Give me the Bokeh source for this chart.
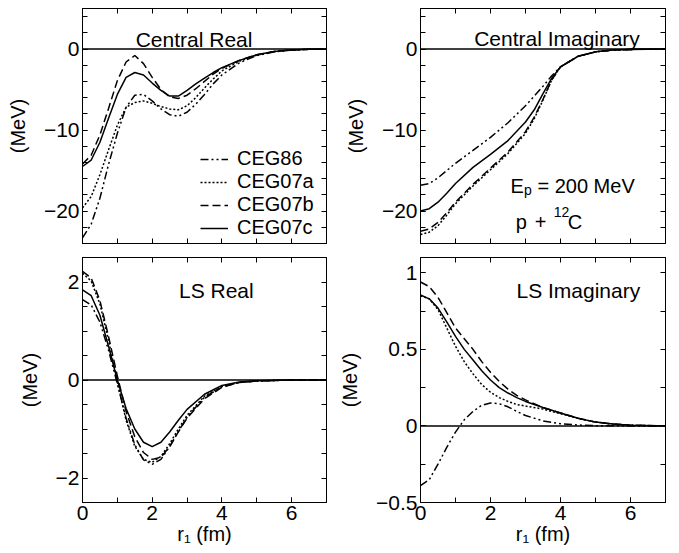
from bokeh.plotting import figure
from bokeh.layouts import gridplot
from bokeh.models import (Range1d, LinearAxis, FixedTicker,
                          CustomJSTickFormatter, Span, Label)
from bokeh.embed import file_html
from bokeh.resources import INLINE

FONT = "Liberation Sans"
FS = "20px"
FT = "21px"
SUB = "14px"

names = ["CEG86", "CEG07a", "CEG07b", "CEG07c"]
dashes = ["8 3 2 3 2 3", "2 2", "8 4", "solid"]

# ticks
x_major = [0, 2, 4, 6]
x_all = [0, 1, 2, 3, 4, 5, 6, 7]
yc_major = [-20, -10, 0]
yc_all = [-24, -22, -20, -18, -16, -14, -12, -10, -8, -6, -4, -2, 0, 2, 4]
ylr_major = [-2, 0, 2]
ylr_all = [-2.5, -2.0, -1.5, -1.0, -0.5, 0.0, 0.5, 1.0, 1.5, 2.0, 2.5]
yli_major = [-0.5, 0, 0.5, 1]
yli_all = [-0.5, -0.25, 0.0, 0.25, 0.5, 0.75, 1.0]

# ---- Central Real ----
r_cr = [0, 0.25, 0.5, 0.75, 1.0, 1.25, 1.5, 1.75, 2.0, 2.25, 2.5, 2.75, 3.0,
        3.25, 3.5, 3.75, 4.0, 4.5, 5.0, 5.5, 6.0, 6.5, 7.0]
cr_ceg86 = [-23.3, -21.6, -18.4, -14.2, -10.4, -7.2, -5.7, -5.6, -6.4, -7.4, -8.1, -8.3, -7.8,
            -6.8, -5.6, -4.3, -3.2, -1.7, -0.8, -0.35, -0.13, -0.04, -0.01]
cr_ceg07a = [-19.6, -18.2, -15.5, -12.4, -9.4, -7.2, -6.6, -6.4, -6.7, -7.1, -7.4, -7.5, -7.0,
             -6.0, -4.8, -3.7, -2.7, -1.5, -0.75, -0.32, -0.12, -0.04, -0.01]
cr_ceg07b = [-14.2, -13.1, -10.6, -7.3, -3.9, -1.6, -0.8, -1.8, -3.5, -5.0, -5.9, -6.1, -5.7,
             -4.9, -4.0, -3.1, -2.4, -1.4, -0.7, -0.3, -0.12, -0.04, -0.01]
cr_ceg07c = [-14.5, -13.7, -11.5, -8.5, -5.6, -3.5, -2.9, -3.2, -4.2, -5.1, -5.8, -5.8, -5.1,
             -4.3, -3.6, -2.9, -2.3, -1.4, -0.7, -0.3, -0.12, -0.04, -0.01]

# ---- Central Imaginary ----
r_ci = [0, 0.25, 0.5, 0.75, 1.0, 1.5, 2.0, 2.5, 3.0, 3.25, 3.5, 3.75, 4.0,
        4.5, 5.0, 5.5, 6.0, 6.5, 7.0]
ci_ceg86 = [-16.8, -16.6, -15.9, -15.0, -14.1, -12.5, -10.9, -9.1, -7.0, -5.8, -4.6, -3.3, -2.2,
            -0.9, -0.35, -0.13, -0.05, -0.02, -0.01]
ci_ceg07a = [-22.9, -22.6, -21.8, -20.5, -19.1, -16.9, -14.9, -12.9, -10.4, -8.6, -6.3, -3.8, -2.2,
             -0.9, -0.35, -0.13, -0.05, -0.02, -0.01]
ci_ceg07b = [-22.5, -22.2, -21.4, -20.2, -18.9, -16.7, -14.7, -12.7, -10.2, -8.4, -6.2, -3.8, -2.2,
             -0.9, -0.35, -0.13, -0.05, -0.02, -0.01]
ci_ceg07c = [-20.0, -19.7, -18.9, -17.8, -16.6, -14.6, -13.0, -11.3, -9.0, -7.5, -5.5, -3.6, -2.2,
             -0.9, -0.35, -0.13, -0.05, -0.02, -0.01]

# ---- LS Real ----
r_lr = [0, 0.25, 0.5, 0.75, 1.0, 1.25, 1.5, 1.75, 2.0, 2.25, 2.5, 2.75, 3.0,
        3.5, 4.0, 4.5, 5.0, 6.0, 7.0]
lr_ceg86 = [1.64, 1.53, 1.18, 0.60, -0.08, -0.78, -1.32, -1.63, -1.72, -1.62, -1.36, -1.05, -0.76,
            -0.35, -0.14, -0.05, -0.02, 0.0, 0.0]
lr_ceg07a = [2.18, 2.02, 1.55, 0.80, -0.04, -0.82, -1.35, -1.62, -1.68, -1.56, -1.30, -1.00, -0.72,
             -0.33, -0.13, -0.05, -0.02, 0.0, 0.0]
lr_ceg07b = [2.22, 2.08, 1.62, 0.88, 0.08, -0.64, -1.16, -1.48, -1.62, -1.58, -1.36, -1.06, -0.78,
             -0.38, -0.15, -0.05, -0.02, 0.0, 0.0]
lr_ceg07c = [1.84, 1.72, 1.32, 0.68, 0.0, -0.58, -1.00, -1.27, -1.36, -1.27, -1.06, -0.82, -0.60,
             -0.29, -0.11, -0.04, -0.015, 0.0, 0.0]

# ---- LS Imaginary ----
r_li = [0, 0.25, 0.5, 0.75, 1.0, 1.25, 1.5, 1.75, 2.0, 2.25, 2.5, 2.75, 3.0,
        3.5, 4.0, 4.5, 5.0, 5.5, 6.0, 7.0]
li_ceg86 = [-0.39, -0.35, -0.25, -0.14, -0.04, 0.04, 0.095, 0.135, 0.15, 0.145, 0.125, 0.095, 0.068,
            0.033, 0.014, 0.006, 0.002, 0.001, 0.0, 0.0]
li_ceg07a = [0.85, 0.83, 0.76, 0.64, 0.52, 0.42, 0.34, 0.27, 0.22, 0.185, 0.16, 0.14, 0.13,
             0.11, 0.08, 0.05, 0.025, 0.012, 0.005, 0.0]
li_ceg07b = [0.94, 0.91, 0.84, 0.74, 0.64, 0.57, 0.50, 0.42, 0.35, 0.29, 0.24, 0.20, 0.17,
             0.12, 0.085, 0.05, 0.025, 0.012, 0.005, 0.0]
li_ceg07c = [0.855, 0.83, 0.77, 0.68, 0.585, 0.50, 0.43, 0.36, 0.30, 0.25, 0.215, 0.185, 0.16,
             0.12, 0.085, 0.05, 0.025, 0.012, 0.005, 0.0]

FMT_CODE = """
const v = Math.round(tick * 100) / 100;
return (v < 0 ? '\\u2212' : '') + Math.abs(v).toString();
"""


def style_axis(ax):
    ax.axis_line_color = "black"
    ax.axis_line_width = 1
    ax.major_tick_line_color = "black"
    ax.minor_tick_line_color = "black"
    ax.major_tick_in = 5
    ax.major_tick_out = 0
    ax.minor_tick_in = 5
    ax.minor_tick_out = 0
    ax.major_label_text_font = FONT
    ax.major_label_text_font_size = FT
    ax.major_label_text_color = "black"
    ax.axis_label_text_font = FONT
    ax.axis_label_text_font_size = FS
    ax.axis_label_text_font_style = "normal"
    ax.axis_label_text_color = "black"
    ax.formatter = CustomJSTickFormatter(code=FMT_CODE)


def make_panel(width, height, mb, yr, y_major, y_all, show_xlab):
    p = figure(width=width, height=height, x_range=Range1d(0, 7), y_range=Range1d(*yr),
               output_backend="svg", toolbar_location=None,
               x_axis_location=None, y_axis_location=None,
               min_border_left=mb[0], min_border_right=mb[1],
               min_border_top=mb[2], min_border_bottom=mb[3],
               background_fill_color="white", border_fill_color="white")
    p.outline_line_color = "black"
    p.outline_line_width = 1
    for g in p.grid:
        g.visible = False

    left = LinearAxis(ticker=FixedTicker(ticks=y_major, minor_ticks=y_all), axis_label="(MeV)")
    style_axis(left)
    left.major_label_standoff = 3
    left.axis_label_standoff = 12
    p.add_layout(left, "left")

    if show_xlab:
        below = LinearAxis(ticker=FixedTicker(ticks=x_major, minor_ticks=x_all),
                           axis_label="r\u2081 (fm)")
        style_axis(below)
        below.major_label_standoff = 3
        below.axis_label_standoff = 0
    else:
        below = LinearAxis(ticker=FixedTicker(ticks=[], minor_ticks=x_all))
        style_axis(below)
        below.major_label_standoff = 0
    p.add_layout(below, "below")

    right = LinearAxis(ticker=FixedTicker(ticks=[], minor_ticks=y_all))
    style_axis(right)
    right.major_label_standoff = 0
    p.add_layout(right, "right")

    above = LinearAxis(ticker=FixedTicker(ticks=[], minor_ticks=x_all))
    style_axis(above)
    above.major_label_standoff = 0
    p.add_layout(above, "above")

    p.add_layout(Span(location=0, dimension="width", line_color="black", line_width=1.5))
    return p


def add_curves(p, r, series, legend=False):
    for name, ys, dash in zip(names, series, dashes):
        kw = dict(line_color="black", line_width=1.5, line_dash=dash)
        if legend:
            kw["legend_label"] = name
        p.line(r, ys, **kw)


def lab(p, x, y, text, size=FS, align="left", xo=0, yo=0):
    p.add_layout(Label(x=x, y=y, text=text, x_offset=xo, y_offset=yo,
                       text_font=FONT, text_font_size=size, text_color="black",
                       text_align=align, text_baseline="alphabetic"))


# top-left
p1 = make_panel(334, 251, (82, 8, 8, 8), (-24, 5), yc_major, yc_all, False)
add_curves(p1, r_cr, [cr_ceg86, cr_ceg07a, cr_ceg07b, cr_ceg07c], legend=True)
lab(p1, 3.2, 1.2, "Central Real", size=FT, align="center")
lg = p1.legend[0]
lg.location = (118, 4)
lg.border_line_color = None
lg.background_fill_alpha = 0
lg.padding = 0
lg.margin = 0
lg.spacing = 0
lg.glyph_width = 28
lg.glyph_height = 20
lg.label_height = 20
lg.label_standoff = 9
lg.label_text_font = FONT
lg.label_text_font_size = FS
lg.label_text_color = "black"

# top-right
p2 = make_panel(345, 251, (86, 14, 8, 8), (-24, 5), yc_major, yc_all, False)
add_curves(p2, r_ci, [ci_ceg86, ci_ceg07a, ci_ceg07b, ci_ceg07c])
lab(p2, 3.9, 1.3, "Central Imaginary", size=FT, align="center")
lab(p2, 2.57, -16.94, "E")
lab(p2, 2.57, -16.94, "p", size=SUB, xo=13.5, yo=-4)
lab(p2, 2.57, -16.94, "= 200 MeV", xo=27)
lab(p2, 2.72, -21.4, "p")
lab(p2, 2.72, -21.4, "+", xo=19)
lab(p2, 2.72, -21.4, "12", size=SUB, xo=38, yo=10)
lab(p2, 2.72, -21.4, "C", xo=52)

# bottom-left
p3 = make_panel(334, 302, (82, 8, 6, 51), (-2.5, 2.5), ylr_major, ylr_all, True)
add_curves(p3, r_lr, [lr_ceg86, lr_ceg07a, lr_ceg07b, lr_ceg07c])
lab(p3, 3.84, 1.83, "LS Real", size=FT, align="center")

# bottom-right
p4 = make_panel(345, 302, (86, 14, 6, 51), (-0.5, 1.1), yli_major, yli_all, True)
add_curves(p4, r_li, [li_ceg86, li_ceg07a, li_ceg07b, li_ceg07c])
lab(p4, 4.51, 0.886, "LS Imaginary", size=FT, align="center")

grid = gridplot([[p1, p2], [p3, p4]], toolbar_location=None)
open("out.html", "w").write(file_html(grid, INLINE))
